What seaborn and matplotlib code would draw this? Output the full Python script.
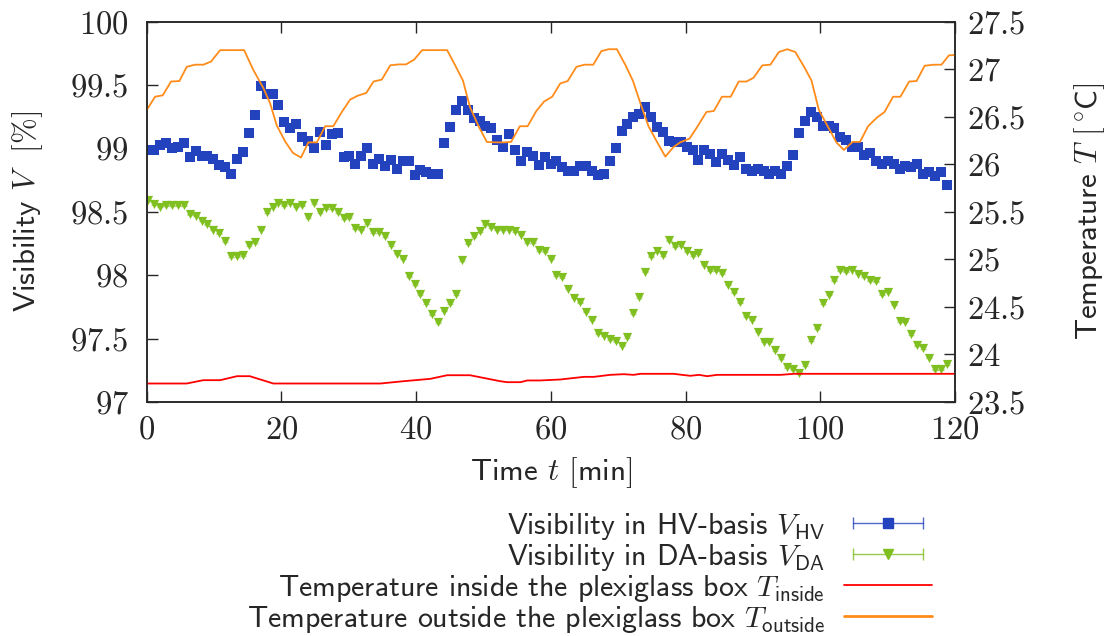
import numpy as np
import matplotlib
matplotlib.use("Agg")
import matplotlib.pyplot as plt
from matplotlib.lines import Line2D
from matplotlib.legend_handler import HandlerLine2D, HandlerTuple
from matplotlib.ticker import FuncFormatter, MultipleLocator
import seaborn as sns

# measurement times [min], one sample roughly every 53 s
t_meas = np.linspace(0.24, 118.8, 136)

# visibility in HV basis [%]
v_hv = [98.99, 98.99, 99.03, 99.04, 99.00, 99.01, 99.04, 98.93, 98.98, 98.94,
        98.94, 98.92, 98.87, 98.85, 98.80, 98.92, 98.97, 99.12, 99.26, 99.49,
        99.43, 99.43, 99.34, 99.21, 99.16, 99.19, 99.09, 99.06, 99.00, 99.13,
        99.03, 99.11, 99.12, 98.93,
        98.94, 98.88, 98.94, 99.00, 98.88, 98.92, 98.865, 98.91, 98.84, 98.90,
        98.90, 98.79, 98.83, 98.81, 98.80, 98.80, 99.04, 99.17, 99.30, 99.37,
        99.30, 99.24, 99.22, 99.18, 99.16, 99.07, 99.01, 99.11, 98.99, 98.90,
        98.97, 98.94, 98.87, 98.93,
        98.875, 98.90, 98.85, 98.82, 98.82, 98.865, 98.86, 98.82, 98.79, 98.80,
        98.90, 99.00, 99.14, 99.19, 99.25, 99.27, 99.33, 99.25, 99.17, 99.13,
        99.06, 99.05, 99.05, 99.01, 98.99, 98.91, 98.99, 98.955, 98.89, 98.955,
        98.91, 98.87, 98.935, 98.84,
        98.82, 98.84, 98.82, 98.80, 98.82, 98.80, 98.865, 98.95, 99.12, 99.22,
        99.285, 99.25, 99.18, 99.18, 99.16, 99.09, 99.07, 99.01, 99.01, 98.95,
        98.96, 98.90, 98.88, 98.90, 98.875, 98.84, 98.86, 98.85, 98.875, 98.80,
        98.81, 98.785, 98.81, 98.71]
v_hv_err = 0.012

# visibility in DA basis [%]
v_da = [98.59, 98.56, 98.54, 98.55, 98.55, 98.55, 98.55, 98.48, 98.47, 98.43,
        98.40, 98.36, 98.33, 98.27, 98.15, 98.15, 98.16, 98.24, 98.26, 98.36,
        98.50, 98.54, 98.57, 98.55, 98.57, 98.54, 98.55, 98.46, 98.57, 98.50,
        98.53, 98.53, 98.50, 98.45, 98.46, 98.37, 98.36, 98.41, 98.34, 98.34,
        98.31, 98.24, 98.17, 98.13, 97.99, 97.93, 97.85, 97.78, 97.69, 97.63,
        97.72, 97.78, 97.85, 98.12, 98.25, 98.31, 98.35, 98.40, 98.38, 98.36,
        98.36, 98.36, 98.35, 98.32, 98.26, 98.26, 98.20, 98.19, 98.13,
        98.00, 97.985, 97.894, 97.823, 97.786, 97.713, 97.65, 97.54, 97.524, 97.498,
        97.482, 97.445, 97.513, 97.70, 97.828, 98.028, 98.148, 98.187, 98.159, 98.274,
        98.227, 98.24, 98.187, 98.161, 98.175, 98.083, 98.038, 98.038, 98.017, 97.925,
        97.865, 97.786, 97.676, 97.65, 97.555, 97.476, 97.476, 97.41, 97.345, 97.272,
        97.256, 97.23, 97.293, 97.487, 97.581, 97.781, 97.846, 97.959, 98.038, 98.03,
        98.043, 98.012, 97.99, 97.959, 97.951, 97.849, 97.87, 97.768, 97.64, 97.634,
        97.534, 97.447, 97.424, 97.35, 97.256, 97.256, 97.298]
v_da_err = 0.006

# temperature outside the box [degC]
time_out = [0, 1.23, 2.38, 3.61, 4.85, 5.94, 7.18, 8.41, 9.55, 10.9, 14.46, 15.84,
            17.33, 18.32, 19.3, 20.55, 21.7, 22.9, 24.0, 25.26, 26.5, 27.7, 28.97,
            30.2, 31.3, 32.6, 33.67, 34.9, 36.15, 37.4, 38.5, 39.7, 40.9, 44.6,
            45.8, 46.95, 48.0, 49.27, 50.5, 51.75, 53.0, 54.1, 55.4, 56.55, 57.85,
            59.0, 60.2, 61.4, 62.5, 63.8, 65.0, 66.3, 67.5, 68.6, 69.8, 71.1, 72.2,
            73.3, 74.5, 75.8, 77.0, 78.2, 79.2, 80.6, 81.8, 83.1, 84.2, 85.4, 86.7,
            87.9, 89.05, 90.1, 91.4, 92.6, 93.85, 95.1, 96.3, 97.6, 98.7, 99.8,
            101.1, 102.4, 103.5, 104.8, 105.9, 107.1, 108.4, 109.55, 110.8, 111.9,
            113.2, 114.3, 115.5, 116.8, 118.0, 119.1, 120.0]
temp_out = [26.57, 26.71, 26.725, 26.87, 26.875, 27.025, 27.047, 27.047, 27.08, 27.20,
            27.20, 26.99, 26.80, 26.64, 26.41, 26.24, 26.12, 26.07, 26.23, 26.23,
            26.40, 26.40, 26.55, 26.68, 26.72, 26.75, 26.87, 26.89, 27.04, 27.05,
            27.05, 27.10, 27.20, 27.20, 27.04, 26.88, 26.60, 26.40, 26.235, 26.23,
            26.23, 26.235, 26.40, 26.40, 26.56, 26.66, 26.71, 26.85, 26.875, 27.025,
            27.047, 27.047, 27.19, 27.21, 27.21, 27.04, 26.875, 26.64, 26.40, 26.23,
            26.08, 26.18, 26.23, 26.27, 26.40, 26.55, 26.56, 26.71, 26.71, 26.87,
            26.87, 26.91, 27.04, 27.047, 27.18, 27.21, 27.18, 27.025, 26.88, 26.57,
            26.40, 26.23, 26.15, 26.235, 26.235, 26.40, 26.49, 26.55, 26.71, 26.71,
            26.87, 26.875, 27.036, 27.047, 27.047, 27.145, 27.15]

# temperature inside the box [degC]
time_in = [0, 5.94, 8.4, 10.9, 13.4, 15.3, 18.8, 34.7, 38.1, 42.1, 44.6, 48.0,
           52.5, 53.5, 55.5, 56.5, 58.4, 61.4, 64.9, 66.4, 68.8, 70.8, 72.3, 73.3,
           78.2, 80.7, 82.0, 83.2, 84.7, 94.1, 96.1, 120.0]
temp_in = [23.694, 23.694, 23.729, 23.729, 23.771, 23.771, 23.694, 23.694, 23.718,
           23.743, 23.781, 23.781, 23.718, 23.708, 23.708, 23.726, 23.726, 23.736,
           23.764, 23.764, 23.785, 23.792, 23.785, 23.796, 23.796, 23.775, 23.785,
           23.771, 23.785, 23.785, 23.796, 23.796]

col_hv = "#2342be"
col_da = "#7fbf1f"
col_in = "#ff0000"
col_out = "#ff8c1a"

sns.set_style("ticks")
plt.rcParams["font.family"] = ["cmss10", "DejaVu Sans"]
plt.rcParams["mathtext.fontset"] = "cm"
plt.rcParams["axes.unicode_minus"] = False
plt.rcParams["axes.linewidth"] = 1.1

fig = plt.figure(figsize=(11.09, 6.36), dpi=100)
ax = fig.add_axes([0.1323, 0.368, 0.7288, 0.598])

# visibilities
ax.errorbar(t_meas, v_da, yerr=v_da_err, fmt="none", ecolor=col_da, elinewidth=0.8,
            capsize=2, alpha=0.6)
sns.scatterplot(x=t_meas, y=v_da, marker="v", s=44, color=col_da, linewidth=0, ax=ax)
ax.errorbar(t_meas, v_hv, yerr=v_hv_err, fmt="none", ecolor=col_hv, elinewidth=0.8,
            capsize=2.5, alpha=0.6)
sns.scatterplot(x=t_meas, y=v_hv, marker="s", s=54, color=col_hv, linewidth=0, ax=ax)

ax.set_xlim(0, 120)
ax.set_ylim(97, 100)
ax.xaxis.set_major_locator(MultipleLocator(20))
ax.yaxis.set_major_locator(MultipleLocator(0.5))

# temperatures on the second axis
ax2 = ax.twinx()
sns.lineplot(x=time_out, y=temp_out, color=col_out, lw=1.3, sort=False,
             estimator=None, ax=ax2)
sns.lineplot(x=time_in, y=temp_in, color=col_in, lw=1.3, sort=False,
             estimator=None, ax=ax2)
ax2.set_ylim(23.5, 27.5)
ax2.yaxis.set_major_locator(MultipleLocator(0.5))

fmt = FuncFormatter(lambda v, p: f"${v:g}$")
ax.xaxis.set_major_formatter(fmt)
ax.yaxis.set_major_formatter(fmt)
ax2.yaxis.set_major_formatter(fmt)

ax.tick_params(axis="x", direction="in", length=8, width=1, top=True, labelsize=23.5, pad=10)
ax.tick_params(axis="y", direction="in", length=8, width=1, right=False, labelsize=23.5, pad=13)
ax2.tick_params(axis="y", direction="in", length=8, width=1, labelsize=23.5, pad=9)
for a in (ax, ax2):
    for sp in a.spines.values():
        sp.set_visible(True)
        sp.set_linewidth(1.1)

ax.set_xlabel(r"Time $t$ $[\mathsf{min}]$", fontsize=22.3)
ax.set_ylabel(r"Visibility $V$  $[\%]$", fontsize=22.3)
ax2.set_ylabel(r"Temperature $T$ $[{}^\circ\!\mathsf{C}]$", fontsize=22.3)
ax.xaxis.set_label_coords(0.5, -0.185)
ax.xaxis.label.set_va("center")
ax.yaxis.set_label_coords(-0.147, 0.5)
ax.yaxis.label.set_va("center")
ax2.yaxis.set_label_coords(1.167, 0.5)
ax2.yaxis.label.set_va("center")

# legend in gnuplot style: text first, horizontal error bar handle
cap_hv = Line2D([], [], color=col_hv, lw=1, marker="|", ms=8, alpha=0.8)
mk_hv = Line2D([], [], color=col_hv, lw=0, marker="s", ms=7.5)
cap_da = Line2D([], [], color=col_da, lw=1, marker="|", ms=8, alpha=0.8)
mk_da = Line2D([], [], color=col_da, lw=0, marker="v", ms=7)
ln_in = Line2D([], [], color=col_in, lw=1.3)
ln_out = Line2D([], [], color=col_out, lw=2)
hmap = {cap_hv: HandlerLine2D(numpoints=2), cap_da: HandlerLine2D(numpoints=2),
        mk_hv: HandlerLine2D(numpoints=1), mk_da: HandlerLine2D(numpoints=1),
        tuple: HandlerTuple(ndivide=1)}
labels = [r"Visibility in HV-basis $V_\mathsf{HV}$",
          r"Visibility in DA-basis $V_\mathsf{DA}$",
          r"Temperature inside the plexiglass box $T_\mathsf{inside}$",
          r"Temperature outside the plexiglass box $T_\mathsf{outside}$"]
fig.legend([(cap_hv, mk_hv), (cap_da, mk_da), ln_in, ln_out], labels,
           handler_map=hmap, loc="upper right", bbox_to_anchor=(0.8404, 0.197),
           frameon=False, markerfirst=False, fontsize=21.5, handlelength=2.95,
           handletextpad=0.64, labelspacing=0.0, borderpad=0, borderaxespad=0)

fig.savefig("out.png", dpi=100)
